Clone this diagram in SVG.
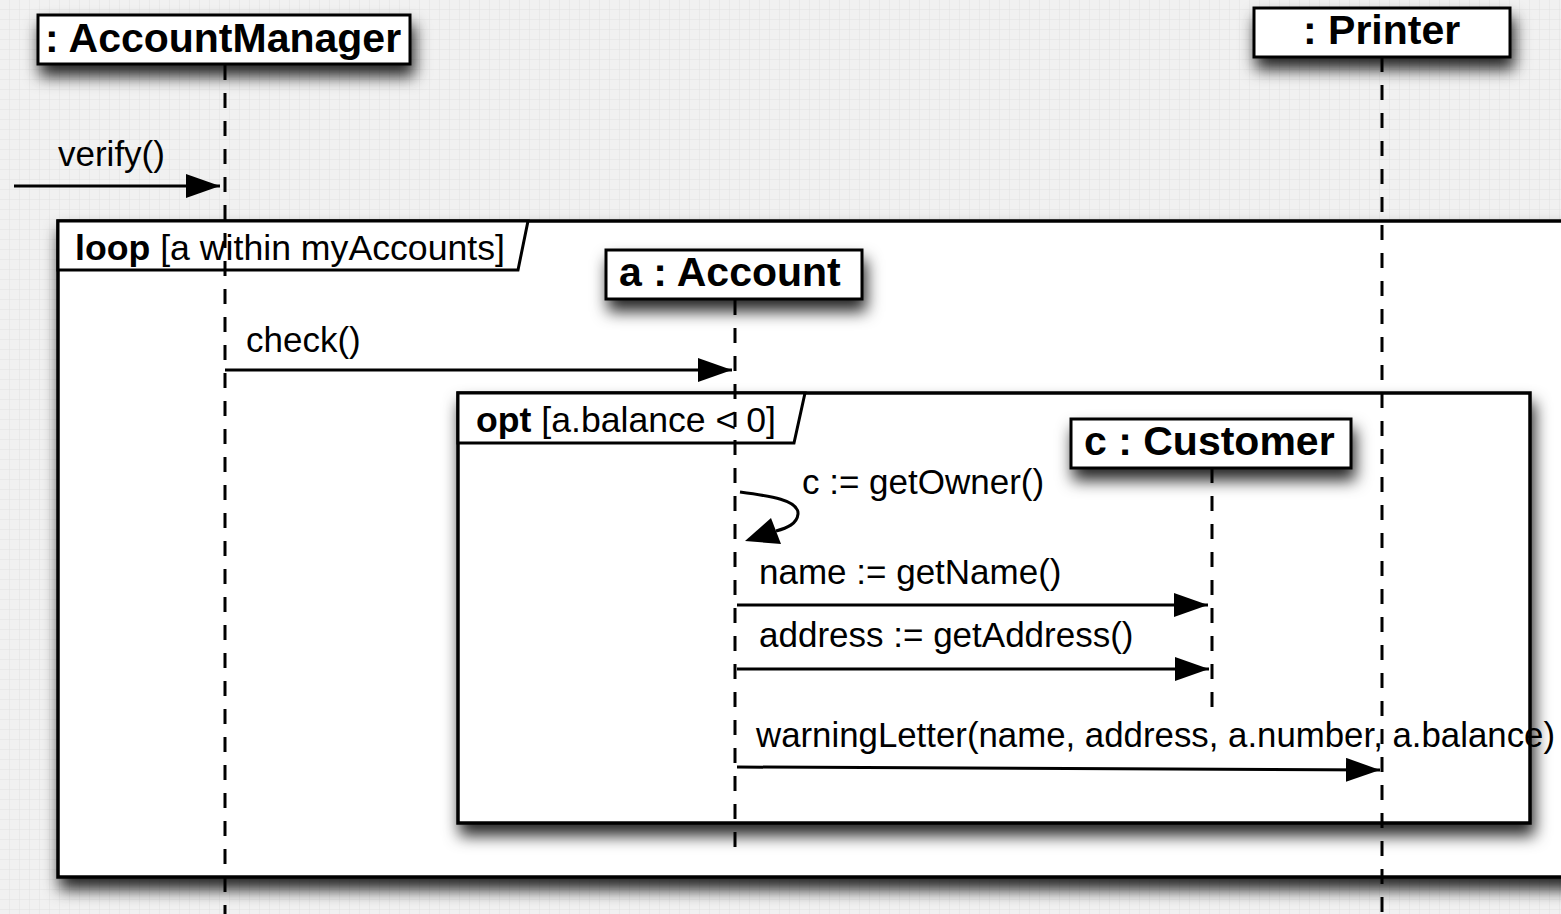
<svg xmlns="http://www.w3.org/2000/svg" width="1561" height="914" viewBox="0 0 1561 914">
  <style>
    .frame { fill: #ffffff; stroke: #000; stroke-width: 3.5; }
    .tag { fill: #ffffff; stroke: #000; stroke-width: 3; stroke-linejoin: miter; }
    .head { fill: #ffffff; stroke: #000; stroke-width: 3; }
    .life { fill: none; stroke: #000; stroke-width: 3; stroke-dasharray: 15 13; }
    .msg { fill: none; stroke: #000; stroke-width: 3; }
    .title { font-family: "Liberation Sans", Arial, sans-serif; font-weight: bold; font-size: 41px; fill: #000; }
    .lbl { font-family: "Liberation Sans", Arial, sans-serif; font-size: 35px; fill: #000; }
    .kw { font-weight: bold; }
  </style>
  <defs>
    <pattern id="grid" width="10" height="10" patternUnits="userSpaceOnUse">
      <rect width="10" height="10" fill="#f1f1f1"/>
      <path d="M10 0 V10 M0 10 H10" stroke="#e2e2e2" stroke-width="1"/>
    </pattern>
    <!-- soft drop shadow for frames -->
    <filter id="shadow" x="-10%" y="-20%" width="130%" height="150%">
      <feDropShadow dx="3" dy="11" stdDeviation="8" flood-color="#000" flood-opacity="0.85"/>
    </filter>
    <!-- same shadow with a taller region for the short participant boxes -->
    <filter id="shadow-head" x="-20%" y="-60%" width="140%" height="280%">
      <feDropShadow dx="3" dy="11" stdDeviation="8" flood-color="#000" flood-opacity="0.85"/>
    </filter>
    <marker id="arrow" markerUnits="userSpaceOnUse" markerWidth="36" markerHeight="26" refX="34" refY="12" orient="auto">
      <path d="M0,0 L34,12 L0,24 z" fill="#000"/>
    </marker>
  </defs>

  <rect width="1561" height="914" fill="url(#grid)"/>

  <!-- combined fragments -->
  <g id="loop-frame">
    <rect class="frame" x="58" y="221" width="1560" height="656" filter="url(#shadow)"/>
    <path class="tag" d="M58,221 L528,221 L518,270 L58,270 z"/>
    <text class="lbl" x="75" y="260" textLength="430" lengthAdjust="spacingAndGlyphs"><tspan class="kw">loop</tspan> [a within myAccounts]</text>
  </g>
  <g id="opt-frame">
    <rect class="frame" x="458" y="393" width="1072" height="430" filter="url(#shadow)"/>
    <path class="tag" d="M458,393 L805,393 L794,443 L458,443 z"/>
    <text class="lbl" x="476" y="432" textLength="300" lengthAdjust="spacingAndGlyphs"><tspan class="kw">opt</tspan> [a.balance &lt; 0]</text>
  </g>

  <!-- message labels -->
  <g id="labels">
    <text class="lbl" x="58" y="166">verify()</text>
    <text class="lbl" x="246" y="352">check()</text>
    <text class="lbl" x="802" y="494">c := getOwner()</text>
    <text class="lbl" x="759" y="584">name := getName()</text>
    <text class="lbl" x="759" y="647">address := getAddress()</text>
    <text class="lbl" x="756" y="747" textLength="799" lengthAdjust="spacingAndGlyphs">warningLetter(name, address, a.number, a.balance)</text>
  </g>

  <!-- lifelines -->
  <g id="lifelines">
    <line class="life" x1="225" y1="65" x2="225" y2="914"/>
    <line class="life" x1="1382" y1="57" x2="1382" y2="914"/>
    <line class="life" x1="735" y1="300" x2="735" y2="850"/>
    <line class="life" x1="1212" y1="468" x2="1212" y2="716"/>
  </g>

  <!-- connectors -->
  <g id="connectors">
    <line class="msg" x1="14" y1="186" x2="220" y2="186" marker-end="url(#arrow)"/>
    <line class="msg" x1="225" y1="370" x2="732" y2="370" marker-end="url(#arrow)"/>
    <path class="msg" d="M740,492 C770,496 799,500 798,514 C797,524 787,528 776,531"/>
    <polygon points="745,541 771,518 781,544" fill="#000"/>
    <line class="msg" x1="737" y1="605" x2="1208" y2="605" marker-end="url(#arrow)"/>
    <line class="msg" x1="737" y1="669" x2="1209" y2="669" marker-end="url(#arrow)"/>
    <line class="msg" x1="737" y1="767" x2="1380" y2="770" marker-end="url(#arrow)"/>
  </g>

  <!-- participants -->
  <g id="account-manager">
    <rect class="head" x="38" y="15" width="372" height="49" filter="url(#shadow-head)"/>
    <text class="title" x="45" y="52">: AccountManager</text>
  </g>
  <g id="printer">
    <rect class="head" x="1254" y="8" width="256" height="49" filter="url(#shadow-head)"/>
    <text class="title" x="1303" y="44">: Printer</text>
  </g>
  <g id="account">
    <rect class="head" x="606" y="250" width="256" height="49" filter="url(#shadow-head)"/>
    <text class="title" x="619" y="286">a : Account</text>
  </g>
  <g id="customer">
    <rect class="head" x="1071" y="419" width="280" height="49" filter="url(#shadow-head)"/>
    <text class="title" x="1084" y="455">c : Customer</text>
  </g>
</svg>
